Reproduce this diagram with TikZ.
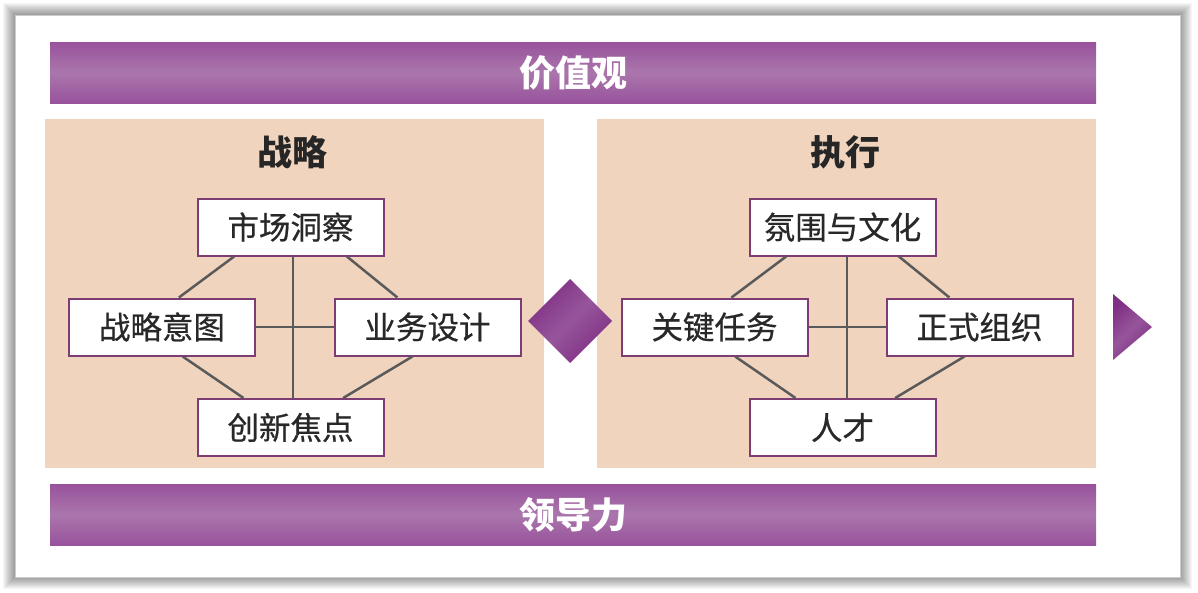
\documentclass[tikz,border=0pt]{standalone}
\usepackage{fontspec}
\setmainfont{Noto Sans CJK SC}
\newfontfamily\boxfont{Noto Sans CJK SC}[FakeBold=0.6]
\usetikzlibrary{calc}
\definecolor{panelC}{RGB}{240,212,190}
\definecolor{barD}{RGB}{152,82,156}
\definecolor{barL}{RGB}{170,118,172}
\definecolor{boxB}{RGB}{125,60,115}
\definecolor{lineC}{RGB}{90,90,90}
\definecolor{txt}{RGB}{40,40,40}
\definecolor{diaD}{RGB}{128,48,132}
\definecolor{diaL}{RGB}{150,85,155}
\begin{document}
\begin{tikzpicture}[x=1pt,y=-1pt,
  box/.style={draw=boxB, line width=2pt, fill=white, minimum width=186pt, minimum height=57pt, inner sep=0pt, font=\boxfont\fontsize{31.5}{33}\selectfont, text=txt},
  link/.style={draw=lineC, line width=2.5pt},
  bar/.style={minimum width=1046pt, minimum height=61pt, inner sep=0pt, top color=barD, bottom color=barD, middle color=barL, text=white, font=\bfseries\fontsize{36}{38}\selectfont},
  title/.style={font=\bfseries\fontsize{35}{37}\selectfont, text=black!85},
  panel/.style={fill=panelC},
  arrowshape/.style={left color=diaD, right color=diaD, middle color=diaL, shading angle=45}]
\useasboundingbox (0,0) rectangle (1198,592);
\fill[white] (0,0) rectangle (1198,592);
% shadow of card
\foreach \i in {12,11,...,1}{
  \fill[black, opacity=0.035] (15-\i,15-\i) rectangle (1180+\i,577+\i);
}
\fill[white] (15,15) rectangle (1180,577);
\draw[black!20, line width=0.8pt] (15,15) rectangle (1180,577);
% panels
\fill[panel] (45,119) rectangle (544,468);
\fill[panel] (597,119) rectangle (1096,468);
% bars
\node[bar] (values) at (573,72.5) {价值观};
\node[bar] (lead) at (573,514.5) {领导力};
% titles
\node[title] (strat) at (292,152) {战略};
\node[title] (exec) at (845,152) {执行};
% connectors (drawn first, boxes on top)
\path (290.5,227) coordinate (c-mi) (162,327) coordinate (c-si) (427.5,327) coordinate (c-bd) (290.5,427.5) coordinate (c-if)
      (842.5,227) coordinate (c-cc) (714.5,327) coordinate (c-kt) (979.5,327) coordinate (c-fo) (842.5,427.5) coordinate (c-tl);
\node[box] (mi) at (c-mi) {市场洞察};
\node[box] (si) at (c-si) {战略意图};
\node[box] (bd) at (c-bd) {业务设计};
\node[box] (if) at (c-if) {创新焦点};
\node[box] (cc) at (c-cc) {氛围与文化};
\node[box] (kt) at (c-kt) {关键任务};
\node[box] (fo) at (c-fo) {正式组织};
\node[box] (tl) at (c-tl) {人才};
\foreach \t/\l/\r/\b/\dx in {mi/si/bd/if/2.5, cc/kt/fo/tl/4.5}{
  \draw[link] ([xshift=\dx pt]\t.south) -- ([xshift=\dx pt]\b.north);
  \draw[link] (\l.east) -- (\r.west);
  \draw[link] ($(\t.south west)!0.2!(\t.south east)$) -- ($(\l.north west)!0.59!(\l.north east)$);
  \draw[link] ($(\t.south west)!0.8!(\t.south east)$) -- ($(\r.north west)!0.34!(\r.north east)$);
  \draw[link] ($(\l.south west)!0.61!(\l.south east)$) -- ($(\b.north west)!0.25!(\b.north east)$);
  \draw[link] ($(\r.south west)!0.42!(\r.south east)$) -- ($(\b.north west)!0.78!(\b.north east)$);
}
% diamond and triangle
\path[arrowshape] (528,321) -- (570,279) -- (612,321) -- (570,363) -- cycle;
\path[arrowshape] (1113,294) -- (1152,327) -- (1113,360) -- cycle;
\end{tikzpicture}
\end{document}
